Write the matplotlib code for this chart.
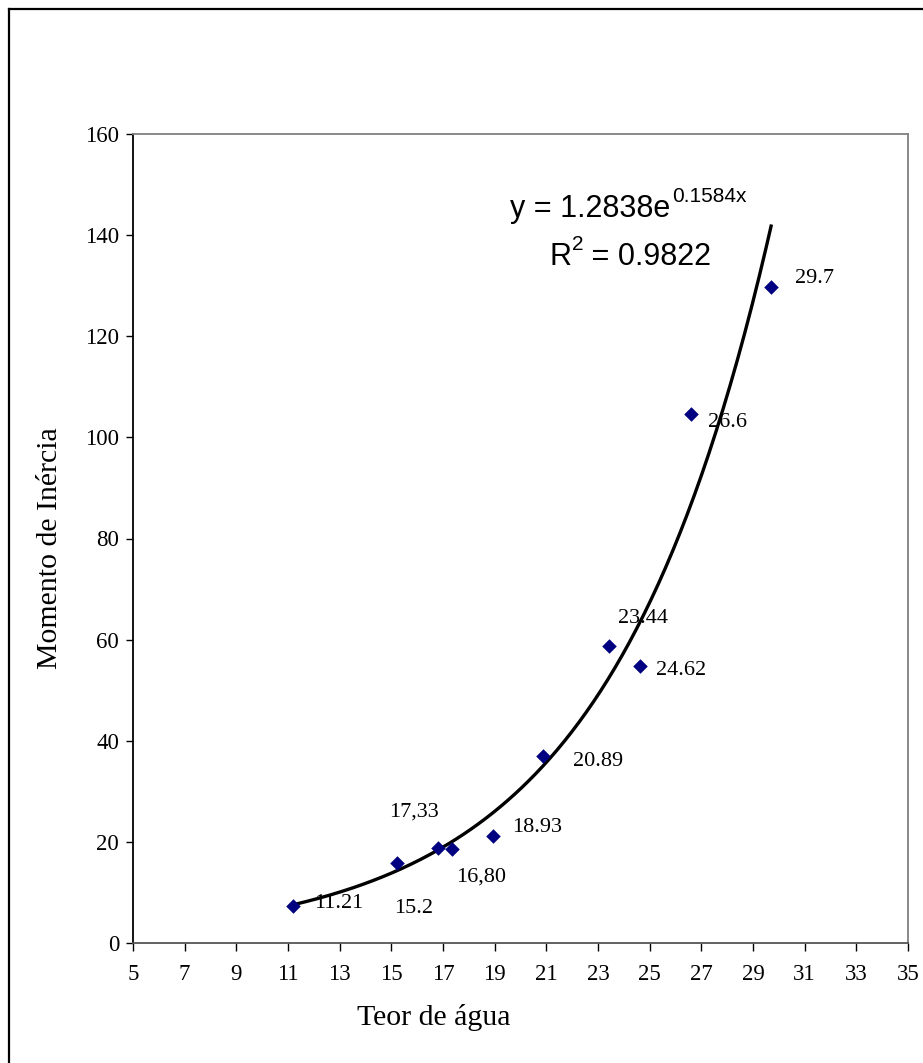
import numpy as np
import matplotlib
matplotlib.use("Agg")
import matplotlib.pyplot as plt
from matplotlib.lines import Line2D

# data
teor = [11.21, 15.2, 16.80, 17.33, 18.93, 20.89, 23.44, 24.62, 26.6, 29.7]
momento = [7.3, 15.8, 18.85, 18.6, 21.2, 37.0, 58.7, 54.8, 104.6, 129.7]
point_labels = ["11.21", "15.2", "17,33", "16,80", "18.93", "20.89", "23.44", "24.62", "26.6", "29.7"]
# label offsets (points) relative to each marker
label_offsets = [(15, 2), (-1.5, -33), (-35, 26), (3, -20), (14, 6),
                 (21, -4), (6.5, 20), (11.5, -3), (12, -6), (17, 6)]

# trendline coefficients as printed on the chart
coef_a = 1.2838
coef_b = 0.1584
r2 = 0.9822

serif = "Liberation Serif"
sans = "Liberation Sans"

fig = plt.figure(figsize=(9.23, 10.63), dpi=100)
ax = fig.add_axes([133 / 923, 1 - 943 / 1063, 775 / 923, 809 / 1063])

# trendline
xs = np.linspace(min(teor), max(teor), 200)
ax.plot(xs, coef_a * np.exp(coef_b * xs), color="black", linewidth=2.4, zorder=2)

# data points
ax.scatter(teor, momento, marker="D", s=55, color="#000080", zorder=3, linewidths=0)

for x, y, lab, off in zip(teor, momento, point_labels, label_offsets):
    ax.annotate(lab, xy=(x, y), xytext=off, textcoords="offset points",
                fontsize=16, fontfamily=serif, ha="left", va="center", zorder=4)

# equation text
eq = ax.text(19.6, 143.6, "y = 1.2838e", fontsize=22, fontfamily=sans,
             ha="left", va="baseline")
ax.annotate("0.1584x", xy=(1, 1), xycoords=eq, xytext=(1, -9),
            textcoords="offset points", fontsize=15, fontfamily=sans,
            ha="left", va="bottom")
rt = ax.text(21.14, 134.1, "R", fontsize=22, fontfamily=sans, ha="left", va="baseline")
ax.annotate("2", xy=(1, 1), xycoords=rt, xytext=(0, -9),
            textcoords="offset points", fontsize=15, fontfamily=sans,
            ha="left", va="bottom")
ax.annotate(" = %.4f" % r2, xy=(1, 0), xycoords=rt, xytext=(8, 0),
            textcoords="offset points", fontsize=22, fontfamily=sans,
            ha="left", va="bottom", annotation_clip=False)

ax.set_xlim(5, 35)
ax.set_ylim(0, 160)
ax.set_xticks(np.arange(5, 36, 2))
ax.set_yticks(np.arange(0, 161, 20))
for lbl in ax.get_xticklabels() + ax.get_yticklabels():
    lbl.set_fontfamily(serif)
    lbl.set_fontsize(16.5)
ax.tick_params(axis="x", direction="out", length=6, width=1, pad=9, color="black")
ax.tick_params(axis="y", direction="out", length=5, width=1, pad=5, color="black")

ax.spines["left"].set_color("black")
ax.spines["bottom"].set_color("#555555")
ax.spines["top"].set_color("#808080")
ax.spines["right"].set_color("#808080")
for s in ax.spines.values():
    s.set_linewidth(1.3)

ax.set_xlabel("Teor de água", fontsize=21.5, fontfamily=serif, labelpad=14)
ax.set_ylabel("Momento de Inércia", fontsize=21.5, fontfamily=serif, labelpad=16)
ax.xaxis.label.set_x(0.388)
ax.yaxis.label.set_y(0.488)

# outer chart border (only top and left visible)
fig.add_artist(Line2D([8.5 / 923, 1.01], [1 - 8.5 / 1063, 1 - 8.5 / 1063],
                      transform=fig.transFigure, color="black", linewidth=1.6))
fig.add_artist(Line2D([8.5 / 923, 8.5 / 923], [-0.01, 1 - 8.5 / 1063],
                      transform=fig.transFigure, color="black", linewidth=1.6))

fig.savefig("out.png", dpi=100)
